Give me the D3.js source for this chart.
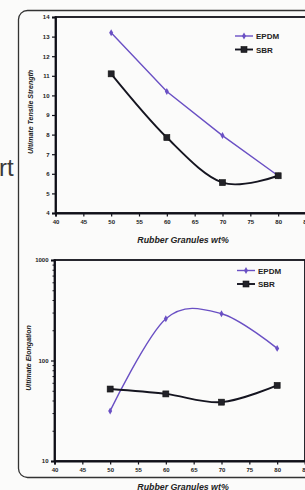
<!DOCTYPE html>
<html><head><meta charset="utf-8">
<script src="https://cdn.jsdelivr.net/npm/d3@7"></script>
<style>
html,body{margin:0;padding:0;background:#fbfbfa;overflow:hidden}
svg{display:block}
text{font-family:Arial,"Liberation Sans",sans-serif}
</style></head>
<body>
<svg id="c" width="305" height="490"></svg>
<script>
const xValues = [50, 60, 70, 80];
const seriesNames = ["EPDM", "SBR"];
const tensileEPDM = [13.2, 10.2, 7.95, 5.9];
const tensileSBR = [11.1, 7.85, 5.55, 5.9];
const elongEPDM = [31.5, 260, 292, 132];
const elongSBR = [52, 46.5, 38.5, 56.5];
const xTicks = [40, 45, 50, 55, 60, 65, 70, 75, 80, 85];
const tensileTicks = [4, 5, 6, 7, 8, 9, 10, 11, 12, 13, 14];
const elongTicks = [10, 100, 1000];
const xTitle = "Rubber Granules wt%";
const tensileTitle = "Ultimate Tensile Strength";
const elongTitle = "Ultimate Elongation";

const colors = {EPDM: "#6a50c4", SBR: "#151520"};
const svg = d3.select("#c");

svg.append("text").attr("x", -1).attr("y", 176).attr("font-size", 24)
  .attr("fill", "#3a3a3a").text("rt");
svg.append("rect").attr("x", 18.5).attr("y", 10.5).attr("width", 330).attr("height", 467)
  .attr("rx", 9).attr("fill", "none").attr("stroke", "#333").attr("stroke-width", 1.3);

function chart(cfg) {
  const g = svg.append("g");
  const x = d3.scaleLinear().domain([40, 85]).range(cfg.xr);
  const y = cfg.log ? d3.scaleLog().domain([10, 1000]).range(cfg.yr)
                    : d3.scaleLinear().domain([4, 14]).range(cfg.yr);
  g.append("rect").attr("x", cfg.xr[0]).attr("y", cfg.yr[1])
    .attr("width", cfg.xr[1] - cfg.xr[0]).attr("height", cfg.yr[0] - cfg.yr[1])
    .attr("fill", "none").attr("stroke", "#101018").attr("stroke-width", 1.8);

  const xa = g.append("g").attr("transform", `translate(0,${cfg.yr[0]})`)
    .call(d3.axisBottom(x).tickValues(xTicks).tickSize(3.5).tickPadding(3).tickFormat(d3.format("d")));
  const ya = g.append("g").attr("transform", `translate(${cfg.xr[0]},0)`)
    .call(d3.axisLeft(y).tickValues(cfg.ticks).tickSize(3.5).tickPadding(2.5).tickFormat(d3.format("d")));
  if (cfg.log) {
    const minor = [];
    [10, 100].forEach(b => { for (let k = 2; k <= 9; k++) minor.push(b * k); });
    g.append("g").attr("transform", `translate(${cfg.xr[0]},0)`)
      .call(d3.axisLeft(y).tickValues(minor).tickSize(2).tickFormat(""))
      .call(s => s.select(".domain").remove());
  }
  [xa, ya].forEach(a => {
    a.select(".domain").attr("stroke", "#101018").attr("stroke-width", 1.8);
    a.selectAll(".tick line").attr("stroke", "#101018").attr("stroke-width", 1.2);
    a.selectAll(".tick text").attr("font-size", 6).attr("font-weight", "bold").attr("fill", "#222");
  });
  g.selectAll(".tick line").attr("stroke", "#101018");

  cfg.series.forEach((vals, si) => {
    const name = seriesNames[si];
    const curve = cfg.curves[si] ? d3.curveCatmullRom.alpha(0) : d3.curveLinear;
    const line = d3.line().x((d, i) => x(xValues[i])).y(d => y(d)).curve(curve);
    g.append("path").attr("d", line(vals)).attr("fill", "none")
      .attr("stroke", colors[name]).attr("stroke-width", si === 0 ? 1.4 : 1.9);
    vals.forEach((v, i) => marker(g, name, x(xValues[i]), y(v)));
  });

  seriesNames.forEach((n, i) => {
    const ly = cfg.legY + i * 13.5;
    g.append("line").attr("x1", cfg.legX).attr("x2", cfg.legX + 18).attr("y1", ly).attr("y2", ly)
      .attr("stroke", colors[n]).attr("stroke-width", i === 0 ? 1.4 : 1.9);
    marker(g, n, cfg.legX + 9, ly);
    g.append("text").attr("x", cfg.legX + 21).attr("y", ly + 3).attr("font-size", 8)
      .attr("font-weight", "bold").attr("fill", "#222").text(n);
  });

  g.append("text").attr("x", 183).attr("y", cfg.xTitleY).attr("text-anchor", "middle")
    .attr("font-size", 8.8).attr("font-weight", "bold").attr("font-style", "italic").attr("fill", "#222").text(xTitle);
  g.append("text").attr("transform", `translate(${cfg.yTitleX},${cfg.yTitleY}) rotate(-90)`)
    .attr("text-anchor", "middle").attr("font-size", 7).attr("font-weight", "bold")
    .attr("font-style", "italic").attr("fill", "#222").text(cfg.yTitle);
}

function marker(g, name, cx, cy) {
  if (name === "EPDM") {
    g.append("path").attr("d", d3.symbol(d3.symbolDiamond, 14)())
      .attr("transform", `translate(${cx},${cy})`).attr("fill", colors.EPDM);
  } else {
    g.append("rect").attr("x", cx - 3).attr("y", cy - 3).attr("width", 6).attr("height", 6)
      .attr("fill", "#222228").attr("stroke", "#111").attr("stroke-width", 0.6);
  }
}

chart({xr: [55.5, 306], yr: [213, 17], log: false, ticks: tensileTicks,
  series: [tensileEPDM, tensileSBR], curves: [false, true], legX: 235, legY: 36, xTitleY: 243,
  yTitle: tensileTitle, yTitleX: 33, yTitleY: 112});
chart({xr: [54.5, 305], yr: [461, 260], log: true, ticks: elongTicks,
  series: [elongEPDM, elongSBR], curves: [true, true], legX: 237, legY: 270.5, xTitleY: 490,
  yTitle: elongTitle, yTitleX: 31, yTitleY: 358});
</script>
</body></html>
